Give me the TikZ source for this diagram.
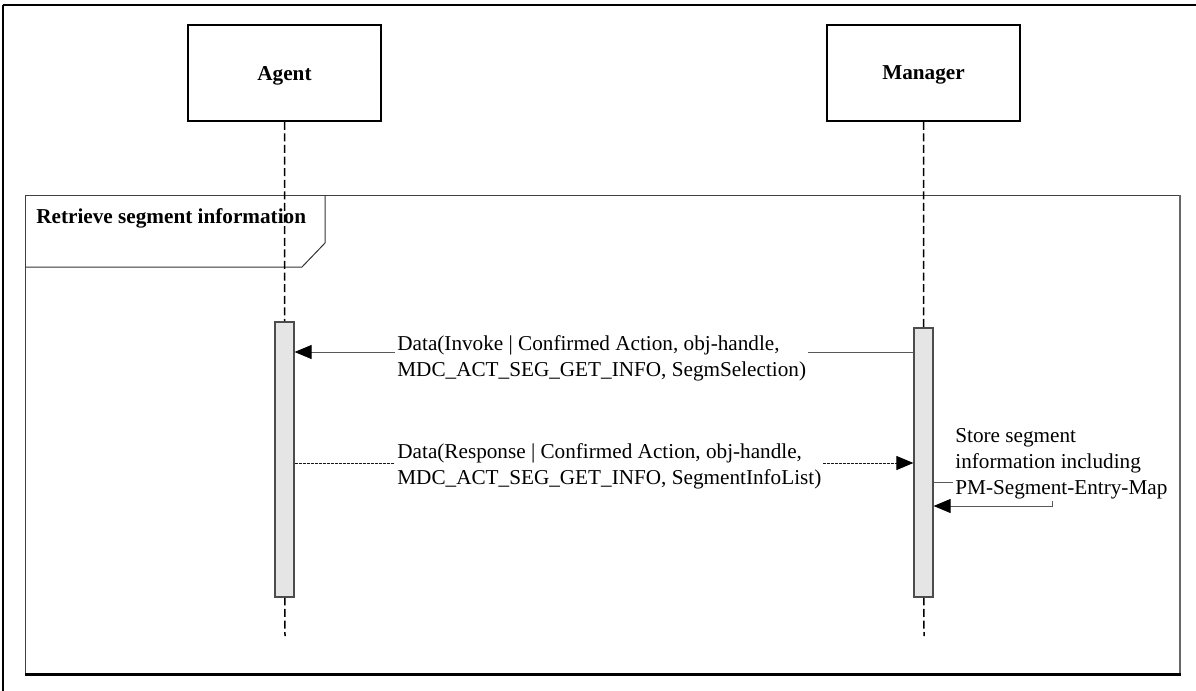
\documentclass[tikz,border=0pt]{standalone}
\usepackage{fontspec}
\setmainfont{Liberation Serif}
\usetikzlibrary{arrows.meta}

\begin{document}
\begin{tikzpicture}[x=0.5pt,y=-0.5pt,
  every node/.style={font=\fontsize{10.6}{13}\selectfont},
  object/.style={draw,line width=0.75pt,minimum width=96.5pt,minimum height=48pt,text depth=0pt,font=\fontsize{10.6}{13}\selectfont\bfseries},
  lifeline/.style={line width=0.75pt,dash pattern=on 4pt off 1.8pt},
  actbar/.style={draw=black!70,fill=black!10,line width=0.6pt,minimum width=9.5pt,inner sep=0pt},
  msg/.style={draw=black!65,line width=0.5pt,-{Triangle[length=8.5pt,width=7pt,color=black]}},
  reply/.style={msg,draw=black!90,dash pattern=on 1.5pt off 0.5pt},
  msglabel/.style={fill=white,inner sep=1pt,align=left,anchor=west}]
\useasboundingbox (0,0) rectangle (1196,691);
\draw[line width=0.75pt] (3,691) -- (3,5);
\draw[line width=1pt] (2.6,5) -- (1196,5);

\draw[black!75,line width=0.5pt] (25,674) -- (25,195) -- (1180,195);
\draw[black!60,line width=1pt] (1180,195) -- (1180,674);
\draw[line width=1.5pt] (25,674) -- (1181,674);
\draw[black!80,line width=0.5pt] (25,267) -- (302,267) -- (325,243) -- (325,195);
\node[anchor=base west,inner sep=0pt,font=\fontsize{10.6}{13}\selectfont\bfseries] (fraglabel) at (36,223) {Retrieve segment information};

\node[object] (agent) at (284.5,73) {Agent};
\node[object] (manager) at (923.5,73) {Manager};
\coordinate (agentend) at (285,636);
\coordinate (managerend) at (924,636);
\draw[lifeline] (agent.south) -- (agentend);
\draw[lifeline] (manager.south) -- (managerend);

\node[actbar,minimum height=137.5pt] (agentact) at (284.5,459.5) {};
\node[actbar,minimum height=134.5pt] (manageract) at (923.5,462.5) {};

\coordinate (invoke) at (0,352);
\coordinate (response) at (0,463);
\coordinate (storetop) at (1052,482);
\coordinate (storebot) at (1052,506);

\draw[msg] (manageract.west |- invoke) -- (agentact.east |- invoke);
\node[msglabel] (invokelabel) at (395,358) {Data(Invoke | Confirmed Action, obj-handle,\\MDC\_ACT\_SEG\_GET\_INFO, SegmSelection)};

\draw[reply] (agentact.east |- response) -- (manageract.west |- response);
\node[msglabel] (responselabel) at (395,466) {Data(Response | Confirmed Action, obj-handle,\\MDC\_ACT\_SEG\_GET\_INFO, SegmentInfoList)};

\draw[msg] (manageract.east |- storetop) -- (storetop) -- (storebot) -- (manageract.east |- storebot);
\node[msglabel] (storelabel) at (953,464) {Store segment\\information including\\PM-Segment-Entry-Map};
\end{tikzpicture}
\end{document}
